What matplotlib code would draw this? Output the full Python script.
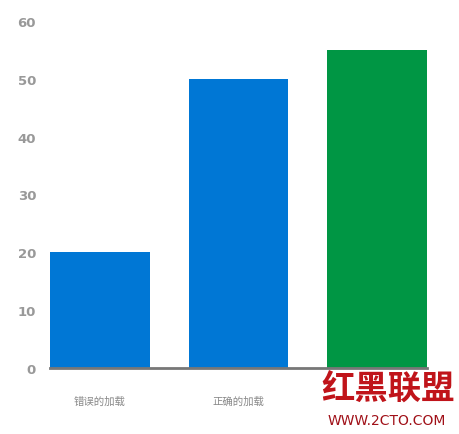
import matplotlib
matplotlib.use('Agg')
import matplotlib.pyplot as plt

plt.rcParams['font.family'] = ['Noto Sans CJK SC', 'DejaVu Sans']

categories = ['错误的加载', '正确的加载', '']
values = [20, 50, 55]
colors = ['#0077D5', '#0077D5', '#009644']
y_ticks = [0, 10, 20, 30, 40, 50, 60]

fig = plt.figure(figsize=(4.59, 4.35), dpi=100)
ax = fig.add_axes([50 / 459, 1 - 369 / 435, 377 / 459, 347 / 435])

x = [0, 1, 2]
ax.bar(x, values, width=0.72, color=colors, zorder=2)
ax.set_xlim(-0.36, 2.36)
ax.set_ylim(0, 60)
ax.set_yticks(y_ticks)
ax.set_yticklabels([str(t) for t in y_ticks], fontsize=9.5, fontweight='bold',
                   color='#999999', family='DejaVu Sans')
ax.set_xticks(x)
ax.set_xticklabels(categories, fontsize=7.5, color='#888888')
ax.tick_params(axis='y', length=0, pad=10)
ax.tick_params(axis='x', length=0, pad=20)

for side in ['top', 'right', 'left']:
    ax.spines[side].set_visible(False)
ax.spines['bottom'].set_color('#777777')
ax.spines['bottom'].set_linewidth(2)
ax.spines['bottom'].set_zorder(3)

# watermark
fig.text(388 / 459, 1 - 390 / 435, '红黑联盟', fontsize=24, color='#C0141A',
         fontweight='bold', ha='center', va='center', zorder=5)
fig.text(387 / 459, 1 - 421 / 435, 'WWW.2CTO.COM', fontsize=10, color='#A01018',
         ha='center', va='center', family='DejaVu Sans', zorder=5)

plt.savefig('out.png', dpi=100)
